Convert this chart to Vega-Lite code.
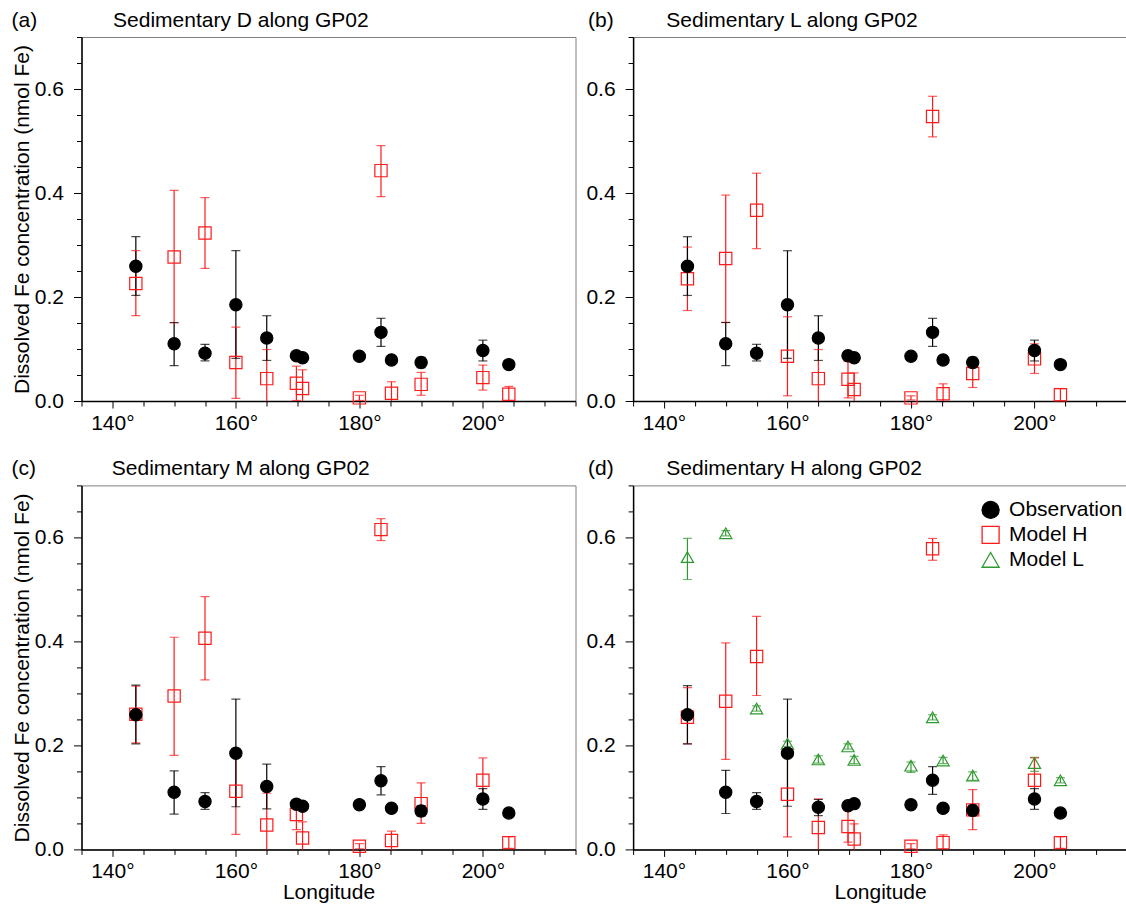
{
"$schema": "https://vega.github.io/schema/vega-lite/v6.json",
"padding": {"left": 10.5, "top": 9, "right": 0, "bottom": 0},
"background": "white",
"data": {"values": [
{"panel":"d","lon":143.8,"series":"Model L","value":0.562,"lo":0.519,"hi":0.598},
{"panel":"d","lon":150,"series":"Model L","value":0.608,"lo":0.603,"hi":0.613},
{"panel":"d","lon":155,"series":"Model L","value":0.271,"lo":0.266,"hi":0.276},
{"panel":"d","lon":160,"series":"Model L","value":0.203,"lo":0.198,"hi":0.208},
{"panel":"d","lon":165,"series":"Model L","value":0.173,"lo":0.166,"hi":0.18},
{"panel":"d","lon":169.8,"series":"Model L","value":0.198,"lo":0.193,"hi":0.203},
{"panel":"d","lon":170.8,"series":"Model L","value":0.172,"lo":0.165,"hi":0.179},
{"panel":"d","lon":180,"series":"Model L","value":0.161,"lo":0.148,"hi":0.168},
{"panel":"d","lon":183.5,"series":"Model L","value":0.254,"lo":0.249,"hi":0.259},
{"panel":"d","lon":185.2,"series":"Model L","value":0.171,"lo":0.165,"hi":0.177},
{"panel":"d","lon":190,"series":"Model L","value":0.142,"lo":0.133,"hi":0.149},
{"panel":"d","lon":200,"series":"Model L","value":0.166,"lo":0.15,"hi":0.177},
{"panel":"d","lon":204.2,"series":"Model L","value":0.133,"lo":0.128,"hi":0.138},
{"panel":"a","lon":143.8,"series":"Model H","value":0.226,"lo":0.164,"hi":0.289},
{"panel":"a","lon":150,"series":"Model H","value":0.277,"lo":0.15,"hi":0.405},
{"panel":"a","lon":155,"series":"Model H","value":0.323,"lo":0.255,"hi":0.391},
{"panel":"a","lon":160,"series":"Model H","value":0.074,"lo":0.005,"hi":0.142},
{"panel":"a","lon":165,"series":"Model H","value":0.043,"lo":-0.013,"hi":0.099},
{"panel":"a","lon":169.8,"series":"Model H","value":0.034,"lo":0.001,"hi":0.067},
{"panel":"a","lon":170.8,"series":"Model H","value":0.024,"lo":-0.012,"hi":0.06},
{"panel":"a","lon":180,"series":"Model H","value":0.006,"lo":0.001,"hi":0.011},
{"panel":"a","lon":183.5,"series":"Model H","value":0.443,"lo":0.393,"hi":0.491},
{"panel":"a","lon":185.2,"series":"Model H","value":0.015,"lo":-0.007,"hi":0.037},
{"panel":"a","lon":190,"series":"Model H","value":0.032,"lo":0.011,"hi":0.055},
{"panel":"a","lon":200,"series":"Model H","value":0.045,"lo":0.021,"hi":0.069},
{"panel":"a","lon":204.2,"series":"Model H","value":0.013,"lo":-0.002,"hi":0.028},
{"panel":"b","lon":143.8,"series":"Model H","value":0.235,"lo":0.174,"hi":0.296},
{"panel":"b","lon":150,"series":"Model H","value":0.274,"lo":0.151,"hi":0.396},
{"panel":"b","lon":155,"series":"Model H","value":0.367,"lo":0.293,"hi":0.438},
{"panel":"b","lon":160,"series":"Model H","value":0.086,"lo":0.01,"hi":0.162},
{"panel":"b","lon":165,"series":"Model H","value":0.043,"lo":-0.013,"hi":0.099},
{"panel":"b","lon":169.8,"series":"Model H","value":0.042,"lo":0.006,"hi":0.076},
{"panel":"b","lon":170.8,"series":"Model H","value":0.022,"lo":-0.011,"hi":0.054},
{"panel":"b","lon":180,"series":"Model H","value":0.006,"lo":0.002,"hi":0.01},
{"panel":"b","lon":183.5,"series":"Model H","value":0.547,"lo":0.508,"hi":0.586},
{"panel":"b","lon":185.2,"series":"Model H","value":0.014,"lo":-0.005,"hi":0.033},
{"panel":"b","lon":190,"series":"Model H","value":0.053,"lo":0.026,"hi":0.079},
{"panel":"b","lon":200,"series":"Model H","value":0.081,"lo":0.053,"hi":0.11},
{"panel":"b","lon":204.2,"series":"Model H","value":0.012,"lo":0.0,"hi":0.024},
{"panel":"c","lon":143.8,"series":"Model H","value":0.26,"lo":0.205,"hi":0.314},
{"panel":"c","lon":150,"series":"Model H","value":0.295,"lo":0.181,"hi":0.408},
{"panel":"c","lon":155,"series":"Model H","value":0.406,"lo":0.326,"hi":0.486},
{"panel":"c","lon":160,"series":"Model H","value":0.112,"lo":0.029,"hi":0.194},
{"panel":"c","lon":165,"series":"Model H","value":0.047,"lo":-0.014,"hi":0.108},
{"panel":"c","lon":169.8,"series":"Model H","value":0.067,"lo":0.038,"hi":0.096},
{"panel":"c","lon":170.8,"series":"Model H","value":0.022,"lo":-0.009,"hi":0.053},
{"panel":"c","lon":180,"series":"Model H","value":0.006,"lo":0.001,"hi":0.011},
{"panel":"c","lon":183.5,"series":"Model H","value":0.615,"lo":0.594,"hi":0.636},
{"panel":"c","lon":185.2,"series":"Model H","value":0.017,"lo":-0.001,"hi":0.035},
{"panel":"c","lon":190,"series":"Model H","value":0.088,"lo":0.05,"hi":0.128},
{"panel":"c","lon":200,"series":"Model H","value":0.133,"lo":0.09,"hi":0.176},
{"panel":"c","lon":204.2,"series":"Model H","value":0.013,"lo":0.002,"hi":0.024},
{"panel":"d","lon":143.8,"series":"Model H","value":0.254,"lo":0.203,"hi":0.311},
{"panel":"d","lon":150,"series":"Model H","value":0.285,"lo":0.173,"hi":0.397},
{"panel":"d","lon":155,"series":"Model H","value":0.371,"lo":0.296,"hi":0.448},
{"panel":"d","lon":160,"series":"Model H","value":0.106,"lo":0.024,"hi":0.189},
{"panel":"d","lon":165,"series":"Model H","value":0.042,"lo":-0.013,"hi":0.097},
{"panel":"d","lon":169.8,"series":"Model H","value":0.044,"lo":0.014,"hi":0.076},
{"panel":"d","lon":170.8,"series":"Model H","value":0.02,"lo":-0.009,"hi":0.049},
{"panel":"d","lon":180,"series":"Model H","value":0.006,"lo":0.001,"hi":0.011},
{"panel":"d","lon":183.5,"series":"Model H","value":0.578,"lo":0.556,"hi":0.598},
{"panel":"d","lon":185.2,"series":"Model H","value":0.013,"lo":-0.002,"hi":0.028},
{"panel":"d","lon":190,"series":"Model H","value":0.076,"lo":0.038,"hi":0.115},
{"panel":"d","lon":200,"series":"Model H","value":0.133,"lo":0.092,"hi":0.176},
{"panel":"d","lon":204.2,"series":"Model H","value":0.013,"lo":0.002,"hi":0.024},
{"panel":"abc","lon":143.8,"series":"Observation","value":0.259,"lo":0.203,"hi":0.316},
{"panel":"abc","lon":150,"series":"Observation","value":0.11,"lo":0.068,"hi":0.151},
{"panel":"abc","lon":155,"series":"Observation","value":0.092,"lo":0.077,"hi":0.109},
{"panel":"abc","lon":160,"series":"Observation","value":0.185,"lo":0.082,"hi":0.289},
{"panel":"abc","lon":165,"series":"Observation","value":0.121,"lo":0.078,"hi":0.164},
{"panel":"abc","lon":169.8,"series":"Observation","value":0.087},
{"panel":"abc","lon":170.8,"series":"Observation","value":0.083},
{"panel":"abc","lon":180,"series":"Observation","value":0.086},
{"panel":"abc","lon":183.5,"series":"Observation","value":0.132,"lo":0.105,"hi":0.159},
{"panel":"abc","lon":185.2,"series":"Observation","value":0.079},
{"panel":"abc","lon":190,"series":"Observation","value":0.074,"lo":0.064,"hi":0.084},
{"panel":"abc","lon":200,"series":"Observation","value":0.097,"lo":0.077,"hi":0.117},
{"panel":"abc","lon":204.2,"series":"Observation","value":0.07},
{"panel":"d","lon":143.8,"series":"Observation","value":0.259,"lo":0.203,"hi":0.315},
{"panel":"d","lon":150,"series":"Observation","value":0.11,"lo":0.069,"hi":0.152},
{"panel":"d","lon":155,"series":"Observation","value":0.092,"lo":0.077,"hi":0.109},
{"panel":"d","lon":160,"series":"Observation","value":0.185,"lo":0.083,"hi":0.289},
{"panel":"d","lon":165,"series":"Observation","value":0.081,"lo":0.065,"hi":0.096},
{"panel":"d","lon":169.8,"series":"Observation","value":0.084},
{"panel":"d","lon":170.8,"series":"Observation","value":0.088},
{"panel":"d","lon":180,"series":"Observation","value":0.086},
{"panel":"d","lon":183.5,"series":"Observation","value":0.133,"lo":0.106,"hi":0.159},
{"panel":"d","lon":185.2,"series":"Observation","value":0.079},
{"panel":"d","lon":190,"series":"Observation","value":0.075,"lo":0.065,"hi":0.085},
{"panel":"d","lon":200,"series":"Observation","value":0.097,"lo":0.077,"hi":0.117},
{"panel":"d","lon":204.2,"series":"Observation","value":0.07}
]},
"concat": [
{
 "width": 494, "height": 364,
 "title": {"text": "(a)\u00a0\u00a0\u00a0\u00a0\u00a0\u00a0\u00a0\u00a0\u00a0\u00a0\u00a0\u00a0\u00a0Sedimentary D along GP02", "dx": -70},
 "transform": [{"filter": "datum.panel === 'a' || datum.panel === 'abc'"}],
 "encoding": {"x": {"field": "lon", "type": "quantitative", "scale": {"domain": [135, 215], "nice": false, "zero": false},
   "axis": {"values": [135,140,145,150,155,160,165,170,175,180,185,190,195,200,205,210,215], "labelExpr": "datum.value % 20 === 0 ? datum.value + '°' : ''", "tickSize": {"condition": {"test": "datum.value % 20 === 0", "value": 7}, "value": 5}, "title": null}}},
 "layer": [
  {"mark": {"type": "rule", "clip": true, "strokeWidth": 1.2},
   "encoding": {"y": {"field": "lo", "type": "quantitative", "scale": {"domain": [0, 0.7], "nice": false}, "axis": {"values": [0,0.05,0.1,0.15,0.2,0.25,0.3,0.35,0.4,0.45,0.5,0.55,0.6,0.65,0.7], "labelExpr": "abs(datum.value*5 - round(datum.value*5)) < 0.001 ? format(datum.value, '.1f') : ''", "labelFontSize": {"condition": {"test": "abs(datum.value*5 - round(datum.value*5)) < 0.001", "value": 21}, "value": 0}, "tickSize": {"condition": {"test": "abs(datum.value*5 - round(datum.value*5)) < 0.001", "value": 8}, "value": 5}, "title": "Dissolved Fe concentration (nmol Fe)"}}, "y2": {"field": "hi"},
    "color": {"field": "series", "type": "nominal", "scale": {"domain": ["Model L","Model H","Observation"], "range": ["#2e992e","#ff1a1a","#000000"]}, "legend": null}}},
  {"mark": {"type": "tick", "clip": true, "orient": "horizontal", "size": 9, "thickness": 1.2},
   "encoding": {"y": {"field": "lo", "type": "quantitative", "scale": {"domain": [0, 0.7], "nice": false}, "axis": {"values": [0,0.05,0.1,0.15,0.2,0.25,0.3,0.35,0.4,0.45,0.5,0.55,0.6,0.65,0.7], "labelExpr": "abs(datum.value*5 - round(datum.value*5)) < 0.001 ? format(datum.value, '.1f') : ''", "labelFontSize": {"condition": {"test": "abs(datum.value*5 - round(datum.value*5)) < 0.001", "value": 21}, "value": 0}, "tickSize": {"condition": {"test": "abs(datum.value*5 - round(datum.value*5)) < 0.001", "value": 8}, "value": 5}, "title": "Dissolved Fe concentration (nmol Fe)"}},
    "color": {"field": "series", "type": "nominal", "scale": {"domain": ["Model L","Model H","Observation"], "range": ["#2e992e","#ff1a1a","#000000"]}, "legend": null}}},
  {"mark": {"type": "tick", "clip": true, "orient": "horizontal", "size": 9, "thickness": 1.2},
   "encoding": {"y": {"field": "hi", "type": "quantitative", "scale": {"domain": [0, 0.7], "nice": false}, "axis": {"values": [0,0.05,0.1,0.15,0.2,0.25,0.3,0.35,0.4,0.45,0.5,0.55,0.6,0.65,0.7], "labelExpr": "abs(datum.value*5 - round(datum.value*5)) < 0.001 ? format(datum.value, '.1f') : ''", "labelFontSize": {"condition": {"test": "abs(datum.value*5 - round(datum.value*5)) < 0.001", "value": 21}, "value": 0}, "tickSize": {"condition": {"test": "abs(datum.value*5 - round(datum.value*5)) < 0.001", "value": 8}, "value": 5}, "title": "Dissolved Fe concentration (nmol Fe)"}},
    "color": {"field": "series", "type": "nominal", "scale": {"domain": ["Model L","Model H","Observation"], "range": ["#2e992e","#ff1a1a","#000000"]}, "legend": null}}},
  {"mark": {"type": "point", "filled": false, "size": 150, "strokeWidth": 1.2, "opacity": 1},
   "encoding": {"y": {"field": "value", "type": "quantitative", "scale": {"domain": [0, 0.7], "nice": false}, "axis": {"values": [0,0.05,0.1,0.15,0.2,0.25,0.3,0.35,0.4,0.45,0.5,0.55,0.6,0.65,0.7], "labelExpr": "abs(datum.value*5 - round(datum.value*5)) < 0.001 ? format(datum.value, '.1f') : ''", "labelFontSize": {"condition": {"test": "abs(datum.value*5 - round(datum.value*5)) < 0.001", "value": 21}, "value": 0}, "tickSize": {"condition": {"test": "abs(datum.value*5 - round(datum.value*5)) < 0.001", "value": 8}, "value": 5}, "title": "Dissolved Fe concentration (nmol Fe)"}},
    "stroke": {"field": "series", "type": "nominal", "scale": {"domain": ["Observation","Model H","Model L"], "range": ["#000000","#ff1a1a","#2e992e"]}, "legend": null},
    "shape": {"field": "series", "type": "nominal", "scale": {"domain": ["Observation","Model H","Model L"], "range": ["circle","square","triangle-up"]}, "legend": null},
    "fill": {"field": "series", "type": "nominal", "scale": {"domain": ["Observation","Model H","Model L"], "range": ["#000000","transparent","transparent"]}, "legend": null}}}
 ]
},
{
 "width": 494, "height": 364,
 "title": {"text": "(b)\u00a0\u00a0\u00a0\u00a0\u00a0\u00a0\u00a0\u00a0\u00a0Sedimentary L along GP02", "dx": -45},
 "transform": [{"filter": "datum.panel === 'b' || datum.panel === 'abc'"}],
 "encoding": {"x": {"field": "lon", "type": "quantitative", "scale": {"domain": [135, 215], "nice": false, "zero": false},
   "axis": {"values": [135,140,145,150,155,160,165,170,175,180,185,190,195,200,205,210,215], "labelExpr": "datum.value % 20 === 0 ? datum.value + '°' : ''", "tickSize": {"condition": {"test": "datum.value % 20 === 0", "value": 7}, "value": 5}, "title": null}}},
 "layer": [
  {"mark": {"type": "rule", "clip": true, "strokeWidth": 1.2},
   "encoding": {"y": {"field": "lo", "type": "quantitative", "scale": {"domain": [0, 0.7], "nice": false}, "axis": {"values": [0,0.05,0.1,0.15,0.2,0.25,0.3,0.35,0.4,0.45,0.5,0.55,0.6,0.65,0.7], "labelExpr": "abs(datum.value*5 - round(datum.value*5)) < 0.001 ? format(datum.value, '.1f') : ''", "labelFontSize": {"condition": {"test": "abs(datum.value*5 - round(datum.value*5)) < 0.001", "value": 21}, "value": 0}, "tickSize": {"condition": {"test": "abs(datum.value*5 - round(datum.value*5)) < 0.001", "value": 8}, "value": 5}, "title": null}}, "y2": {"field": "hi"},
    "color": {"field": "series", "type": "nominal", "scale": {"domain": ["Model L","Model H","Observation"], "range": ["#2e992e","#ff1a1a","#000000"]}, "legend": null}}},
  {"mark": {"type": "tick", "clip": true, "orient": "horizontal", "size": 9, "thickness": 1.2},
   "encoding": {"y": {"field": "lo", "type": "quantitative", "scale": {"domain": [0, 0.7], "nice": false}, "axis": {"values": [0,0.05,0.1,0.15,0.2,0.25,0.3,0.35,0.4,0.45,0.5,0.55,0.6,0.65,0.7], "labelExpr": "abs(datum.value*5 - round(datum.value*5)) < 0.001 ? format(datum.value, '.1f') : ''", "labelFontSize": {"condition": {"test": "abs(datum.value*5 - round(datum.value*5)) < 0.001", "value": 21}, "value": 0}, "tickSize": {"condition": {"test": "abs(datum.value*5 - round(datum.value*5)) < 0.001", "value": 8}, "value": 5}, "title": null}},
    "color": {"field": "series", "type": "nominal", "scale": {"domain": ["Model L","Model H","Observation"], "range": ["#2e992e","#ff1a1a","#000000"]}, "legend": null}}},
  {"mark": {"type": "tick", "clip": true, "orient": "horizontal", "size": 9, "thickness": 1.2},
   "encoding": {"y": {"field": "hi", "type": "quantitative", "scale": {"domain": [0, 0.7], "nice": false}, "axis": {"values": [0,0.05,0.1,0.15,0.2,0.25,0.3,0.35,0.4,0.45,0.5,0.55,0.6,0.65,0.7], "labelExpr": "abs(datum.value*5 - round(datum.value*5)) < 0.001 ? format(datum.value, '.1f') : ''", "labelFontSize": {"condition": {"test": "abs(datum.value*5 - round(datum.value*5)) < 0.001", "value": 21}, "value": 0}, "tickSize": {"condition": {"test": "abs(datum.value*5 - round(datum.value*5)) < 0.001", "value": 8}, "value": 5}, "title": null}},
    "color": {"field": "series", "type": "nominal", "scale": {"domain": ["Model L","Model H","Observation"], "range": ["#2e992e","#ff1a1a","#000000"]}, "legend": null}}},
  {"mark": {"type": "point", "filled": false, "size": 150, "strokeWidth": 1.2, "opacity": 1},
   "encoding": {"y": {"field": "value", "type": "quantitative", "scale": {"domain": [0, 0.7], "nice": false}, "axis": {"values": [0,0.05,0.1,0.15,0.2,0.25,0.3,0.35,0.4,0.45,0.5,0.55,0.6,0.65,0.7], "labelExpr": "abs(datum.value*5 - round(datum.value*5)) < 0.001 ? format(datum.value, '.1f') : ''", "labelFontSize": {"condition": {"test": "abs(datum.value*5 - round(datum.value*5)) < 0.001", "value": 21}, "value": 0}, "tickSize": {"condition": {"test": "abs(datum.value*5 - round(datum.value*5)) < 0.001", "value": 8}, "value": 5}, "title": null}},
    "stroke": {"field": "series", "type": "nominal", "scale": {"domain": ["Observation","Model H","Model L"], "range": ["#000000","#ff1a1a","#2e992e"]}, "legend": null},
    "shape": {"field": "series", "type": "nominal", "scale": {"domain": ["Observation","Model H","Model L"], "range": ["circle","square","triangle-up"]}, "legend": null},
    "fill": {"field": "series", "type": "nominal", "scale": {"domain": ["Observation","Model H","Model L"], "range": ["#000000","transparent","transparent"]}, "legend": null}}}
 ]
},
{
 "width": 494, "height": 364,
 "title": {"text": "(c)\u00a0\u00a0\u00a0\u00a0\u00a0\u00a0\u00a0\u00a0\u00a0\u00a0\u00a0\u00a0\u00a0Sedimentary M along GP02", "dx": -70},
 "transform": [{"filter": "datum.panel === 'c' || datum.panel === 'abc'"}],
 "encoding": {"x": {"field": "lon", "type": "quantitative", "scale": {"domain": [135, 215], "nice": false, "zero": false},
   "axis": {"values": [135,140,145,150,155,160,165,170,175,180,185,190,195,200,205,210,215], "labelExpr": "datum.value % 20 === 0 ? datum.value + '°' : ''", "tickSize": {"condition": {"test": "datum.value % 20 === 0", "value": 7}, "value": 5}, "title": "Longitude"}}},
 "layer": [
  {"mark": {"type": "rule", "clip": true, "strokeWidth": 1.2},
   "encoding": {"y": {"field": "lo", "type": "quantitative", "scale": {"domain": [0, 0.7], "nice": false}, "axis": {"values": [0,0.05,0.1,0.15,0.2,0.25,0.3,0.35,0.4,0.45,0.5,0.55,0.6,0.65,0.7], "labelExpr": "abs(datum.value*5 - round(datum.value*5)) < 0.001 ? format(datum.value, '.1f') : ''", "labelFontSize": {"condition": {"test": "abs(datum.value*5 - round(datum.value*5)) < 0.001", "value": 21}, "value": 0}, "tickSize": {"condition": {"test": "abs(datum.value*5 - round(datum.value*5)) < 0.001", "value": 8}, "value": 5}, "title": "Dissolved Fe concentration (nmol Fe)"}}, "y2": {"field": "hi"},
    "color": {"field": "series", "type": "nominal", "scale": {"domain": ["Model L","Model H","Observation"], "range": ["#2e992e","#ff1a1a","#000000"]}, "legend": null}}},
  {"mark": {"type": "tick", "clip": true, "orient": "horizontal", "size": 9, "thickness": 1.2},
   "encoding": {"y": {"field": "lo", "type": "quantitative", "scale": {"domain": [0, 0.7], "nice": false}, "axis": {"values": [0,0.05,0.1,0.15,0.2,0.25,0.3,0.35,0.4,0.45,0.5,0.55,0.6,0.65,0.7], "labelExpr": "abs(datum.value*5 - round(datum.value*5)) < 0.001 ? format(datum.value, '.1f') : ''", "labelFontSize": {"condition": {"test": "abs(datum.value*5 - round(datum.value*5)) < 0.001", "value": 21}, "value": 0}, "tickSize": {"condition": {"test": "abs(datum.value*5 - round(datum.value*5)) < 0.001", "value": 8}, "value": 5}, "title": "Dissolved Fe concentration (nmol Fe)"}},
    "color": {"field": "series", "type": "nominal", "scale": {"domain": ["Model L","Model H","Observation"], "range": ["#2e992e","#ff1a1a","#000000"]}, "legend": null}}},
  {"mark": {"type": "tick", "clip": true, "orient": "horizontal", "size": 9, "thickness": 1.2},
   "encoding": {"y": {"field": "hi", "type": "quantitative", "scale": {"domain": [0, 0.7], "nice": false}, "axis": {"values": [0,0.05,0.1,0.15,0.2,0.25,0.3,0.35,0.4,0.45,0.5,0.55,0.6,0.65,0.7], "labelExpr": "abs(datum.value*5 - round(datum.value*5)) < 0.001 ? format(datum.value, '.1f') : ''", "labelFontSize": {"condition": {"test": "abs(datum.value*5 - round(datum.value*5)) < 0.001", "value": 21}, "value": 0}, "tickSize": {"condition": {"test": "abs(datum.value*5 - round(datum.value*5)) < 0.001", "value": 8}, "value": 5}, "title": "Dissolved Fe concentration (nmol Fe)"}},
    "color": {"field": "series", "type": "nominal", "scale": {"domain": ["Model L","Model H","Observation"], "range": ["#2e992e","#ff1a1a","#000000"]}, "legend": null}}},
  {"mark": {"type": "point", "filled": false, "size": 150, "strokeWidth": 1.2, "opacity": 1},
   "encoding": {"y": {"field": "value", "type": "quantitative", "scale": {"domain": [0, 0.7], "nice": false}, "axis": {"values": [0,0.05,0.1,0.15,0.2,0.25,0.3,0.35,0.4,0.45,0.5,0.55,0.6,0.65,0.7], "labelExpr": "abs(datum.value*5 - round(datum.value*5)) < 0.001 ? format(datum.value, '.1f') : ''", "labelFontSize": {"condition": {"test": "abs(datum.value*5 - round(datum.value*5)) < 0.001", "value": 21}, "value": 0}, "tickSize": {"condition": {"test": "abs(datum.value*5 - round(datum.value*5)) < 0.001", "value": 8}, "value": 5}, "title": "Dissolved Fe concentration (nmol Fe)"}},
    "stroke": {"field": "series", "type": "nominal", "scale": {"domain": ["Observation","Model H","Model L"], "range": ["#000000","#ff1a1a","#2e992e"]}, "legend": null},
    "shape": {"field": "series", "type": "nominal", "scale": {"domain": ["Observation","Model H","Model L"], "range": ["circle","square","triangle-up"]}, "legend": null},
    "fill": {"field": "series", "type": "nominal", "scale": {"domain": ["Observation","Model H","Model L"], "range": ["#000000","transparent","transparent"]}, "legend": null}}}
 ]
},
{
 "width": 494, "height": 364,
 "title": {"text": "(d)\u00a0\u00a0\u00a0\u00a0\u00a0\u00a0\u00a0\u00a0\u00a0Sedimentary H along GP02", "dx": -45},
 "transform": [{"filter": "datum.panel === 'd'"}],
 "encoding": {"x": {"field": "lon", "type": "quantitative", "scale": {"domain": [135, 215], "nice": false, "zero": false},
   "axis": {"values": [135,140,145,150,155,160,165,170,175,180,185,190,195,200,205,210,215], "labelExpr": "datum.value % 20 === 0 ? datum.value + '°' : ''", "tickSize": {"condition": {"test": "datum.value % 20 === 0", "value": 7}, "value": 5}, "title": "Longitude"}}},
 "layer": [
  {"mark": {"type": "rule", "clip": true, "strokeWidth": 1.2},
   "encoding": {"y": {"field": "lo", "type": "quantitative", "scale": {"domain": [0, 0.7], "nice": false}, "axis": {"values": [0,0.05,0.1,0.15,0.2,0.25,0.3,0.35,0.4,0.45,0.5,0.55,0.6,0.65,0.7], "labelExpr": "abs(datum.value*5 - round(datum.value*5)) < 0.001 ? format(datum.value, '.1f') : ''", "labelFontSize": {"condition": {"test": "abs(datum.value*5 - round(datum.value*5)) < 0.001", "value": 21}, "value": 0}, "tickSize": {"condition": {"test": "abs(datum.value*5 - round(datum.value*5)) < 0.001", "value": 8}, "value": 5}, "title": null}}, "y2": {"field": "hi"},
    "color": {"field": "series", "type": "nominal", "scale": {"domain": ["Model L","Model H","Observation"], "range": ["#2e992e","#ff1a1a","#000000"]}, "legend": null}}},
  {"mark": {"type": "tick", "clip": true, "orient": "horizontal", "size": 9, "thickness": 1.2},
   "encoding": {"y": {"field": "lo", "type": "quantitative", "scale": {"domain": [0, 0.7], "nice": false}, "axis": {"values": [0,0.05,0.1,0.15,0.2,0.25,0.3,0.35,0.4,0.45,0.5,0.55,0.6,0.65,0.7], "labelExpr": "abs(datum.value*5 - round(datum.value*5)) < 0.001 ? format(datum.value, '.1f') : ''", "labelFontSize": {"condition": {"test": "abs(datum.value*5 - round(datum.value*5)) < 0.001", "value": 21}, "value": 0}, "tickSize": {"condition": {"test": "abs(datum.value*5 - round(datum.value*5)) < 0.001", "value": 8}, "value": 5}, "title": null}},
    "color": {"field": "series", "type": "nominal", "scale": {"domain": ["Model L","Model H","Observation"], "range": ["#2e992e","#ff1a1a","#000000"]}, "legend": null}}},
  {"mark": {"type": "tick", "clip": true, "orient": "horizontal", "size": 9, "thickness": 1.2},
   "encoding": {"y": {"field": "hi", "type": "quantitative", "scale": {"domain": [0, 0.7], "nice": false}, "axis": {"values": [0,0.05,0.1,0.15,0.2,0.25,0.3,0.35,0.4,0.45,0.5,0.55,0.6,0.65,0.7], "labelExpr": "abs(datum.value*5 - round(datum.value*5)) < 0.001 ? format(datum.value, '.1f') : ''", "labelFontSize": {"condition": {"test": "abs(datum.value*5 - round(datum.value*5)) < 0.001", "value": 21}, "value": 0}, "tickSize": {"condition": {"test": "abs(datum.value*5 - round(datum.value*5)) < 0.001", "value": 8}, "value": 5}, "title": null}},
    "color": {"field": "series", "type": "nominal", "scale": {"domain": ["Model L","Model H","Observation"], "range": ["#2e992e","#ff1a1a","#000000"]}, "legend": null}}},
  {"mark": {"type": "point", "filled": false, "size": 150, "strokeWidth": 1.2, "opacity": 1},
   "encoding": {"y": {"field": "value", "type": "quantitative", "scale": {"domain": [0, 0.7], "nice": false}, "axis": {"values": [0,0.05,0.1,0.15,0.2,0.25,0.3,0.35,0.4,0.45,0.5,0.55,0.6,0.65,0.7], "labelExpr": "abs(datum.value*5 - round(datum.value*5)) < 0.001 ? format(datum.value, '.1f') : ''", "labelFontSize": {"condition": {"test": "abs(datum.value*5 - round(datum.value*5)) < 0.001", "value": 21}, "value": 0}, "tickSize": {"condition": {"test": "abs(datum.value*5 - round(datum.value*5)) < 0.001", "value": 8}, "value": 5}, "title": null}},
    "stroke": {"field": "series", "type": "nominal", "scale": {"domain": ["Observation","Model H","Model L"], "range": ["#000000","#ff1a1a","#2e992e"]},
      "legend": {"orient": "none", "legendX": 347, "legendY": 14, "title": null, "symbolSize": 289, "symbolStrokeWidth": 1.3, "labelFontSize": 21, "labelFont": "Liberation Sans", "labelColor": "#000000", "labelOffset": 8, "rowPadding": 2, "padding": 0}},
    "shape": {"field": "series", "type": "nominal", "scale": {"domain": ["Observation","Model H","Model L"], "range": ["circle","square","triangle-up"]},
      "legend": {"orient": "none", "legendX": 347, "legendY": 14, "title": null, "symbolSize": 289, "symbolStrokeWidth": 1.3, "labelFontSize": 21, "labelFont": "Liberation Sans", "labelColor": "#000000", "labelOffset": 8, "rowPadding": 2, "padding": 0}},
    "fill": {"field": "series", "type": "nominal", "scale": {"domain": ["Observation","Model H","Model L"], "range": ["#000000","transparent","transparent"]},
      "legend": {"orient": "none", "legendX": 347, "legendY": 14, "title": null, "symbolSize": 289, "symbolStrokeWidth": 1.3, "labelFontSize": 21, "labelFont": "Liberation Sans", "labelColor": "#000000", "labelOffset": 8, "rowPadding": 2, "padding": 0}}}}
 ]
}
],
"columns": 2,
"spacing": {"row": 84.4, "column": 57.6},
"bounds": "flush",
"resolve": {"scale": {"color": "independent", "stroke": "independent", "shape": "independent", "fill": "independent"}, "legend": {"color": "independent", "stroke": "independent", "shape": "independent", "fill": "independent"}},
"config": {
 "font": "Liberation Sans",
 "view": {"stroke": "#7f7f7f", "strokeWidth": 1},
 "axis": {"grid": false, "domainColor": "#000000", "domainWidth": 1.5, "tickColor": "#000000", "tickWidth": 1, "labelFont": "Liberation Sans", "labelFontSize": 21, "labelColor": "#000000", "titleFont": "Liberation Sans", "titleFontSize": 21, "titleFontWeight": "normal", "titleColor": "#000000", "labelFlush": false, "labelOverlap": false},
 "axisX": {"labelPadding": 4.5, "titlePadding": 0},
 "axisY": {"labelPadding": 10, "titlePadding": 2},
 "title": {"font": "Liberation Sans", "fontSize": 21, "fontWeight": "normal", "anchor": "start", "frame": "group", "baseline": "alphabetic", "offset": 6, "color": "#000000"}
}
}
